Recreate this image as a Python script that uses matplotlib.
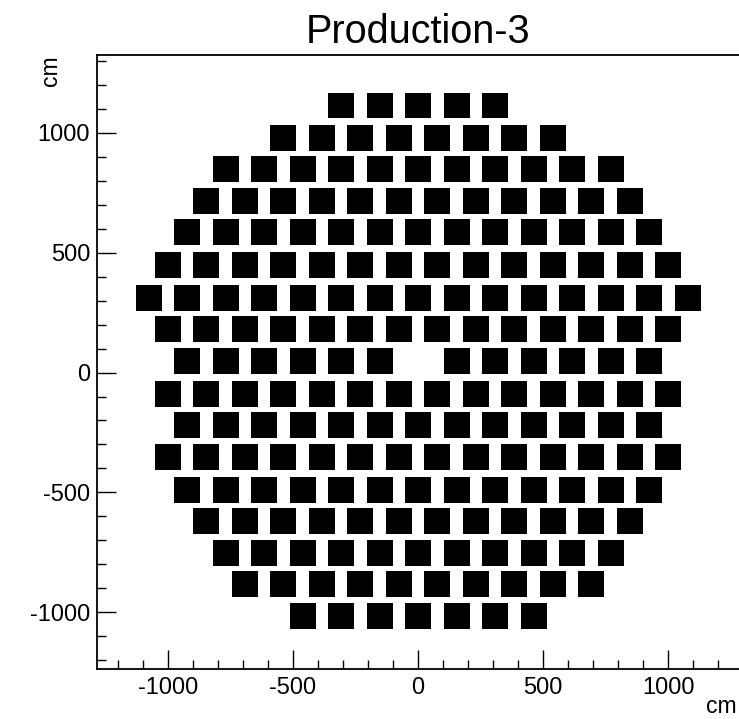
import matplotlib
matplotlib.use("Agg")
import matplotlib.pyplot as plt
from matplotlib.ticker import MultipleLocator

plt.rcParams['font.family'] = ['Liberation Sans', 'DejaVu Sans']
plt.rcParams['axes.unicode_minus'] = False

# ---- data ----
title = "Production-3"
row_y = [1114, 979, 850, 715, 586, 448, 311, 182, 47, -88, -220, -354, -489, -618, -753, -884, -1017]  # cm
row_n = [5, 8, 11, 12, 13, 14, 15, 14, 13, 14, 13, 14, 13, 12, 11, 10, 7]
pitch = 154.0          # cm, horizontal spacing of modules
box_w = 104.0          # cm
box_h = 108.0          # cm
missing = [(8, 6)]     # (row index, position index) of the absent module
x_ticks = [-1000, -500, 0, 500, 1000]
y_ticks = [-1000, -500, 0, 500, 1000]
x_lim = (-1284, 1284)
y_lim = (-1237, 1327)

W, H = 739, 719
fig = plt.figure(figsize=(W / 100, H / 100), dpi=100)
ax = fig.add_axes([97 / W, 1 - 669 / H, 642 / W, 614.5 / H])

xs, ys = [], []
for r, (y, n) in enumerate(zip(row_y, row_n)):
    for i in range(n):
        if (r, i) in missing:
            continue
        xs.append((i - (n - 1) / 2.0) * pitch)
        ys.append(y - box_h / 2.0)
ax.bar(xs, box_h, width=box_w, bottom=ys, color='black', linewidth=0)

ax.set_xlim(*x_lim)
ax.set_ylim(*y_lim)
ax.set_xticks(x_ticks)
ax.set_yticks(y_ticks)
ax.xaxis.set_minor_locator(MultipleLocator(100))
ax.yaxis.set_minor_locator(MultipleLocator(100))
ax.tick_params(which='both', direction='in', top=False, right=False,
               labelsize=17, width=1.0, color='black')
ax.tick_params(which='major', length=13.5, pad=5)
ax.tick_params(which='minor', length=6.8)
ax.tick_params(axis='x', which='major', pad=6)
for s in ('left', 'bottom', 'top'):
    ax.spines[s].set_linewidth(1.3)
ax.spines['right'].set_visible(False)

ax.set_title(title, fontsize=28.5, pad=8)

fig.text(1.0 - 2 / W, 1 - 718 / H, "cm", ha='right', va='bottom', fontsize=16.5)
fig.text(50 / W, 1 - 55 / H, "cm", ha='center', va='top', rotation=90, fontsize=16.5)

fig.savefig("out.png", dpi=100)
